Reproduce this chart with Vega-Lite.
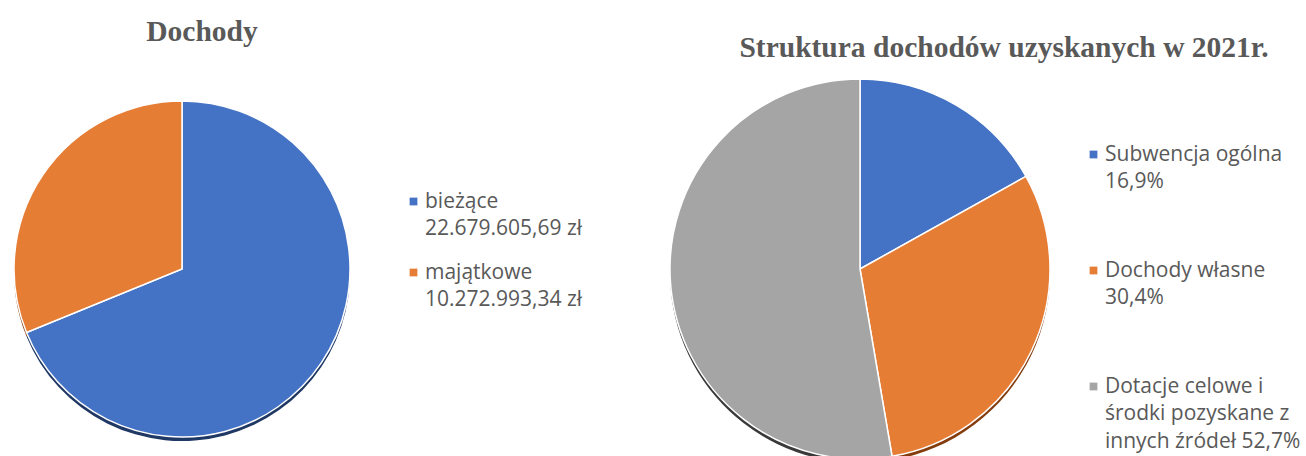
{
  "$schema": "https://vega.github.io/schema/vega-lite/v6.json",
  "background": "white",
  "padding": {"left": 11, "top": 16, "right": 0, "bottom": 0},
  "bounds": "flush",
  "spacing": 318,
  "config": {
    "view": {"stroke": null},
    "style": {"guide-label": {"lineHeight": 27.5, "dy": -11}},
    "legend": {
      "orient": "none",
      "symbolType": "square",
      "symbolSize": 60,
      "symbolStrokeWidth": 0,
      "labelFont": "Open Sans",
      "labelFontSize": 21,
      "labelColor": "#595959",
      "labelLimit": 0,
      "labelOffset": 1,
      "labelBaseline": "top",
      "padding": 0,
      "title": null
    }
  },
  "hconcat": [
    {
      "width": 340,
      "height": 380,
      "title": {"text": "Dochody", "font": "Liberation Serif", "fontSize": 29.5, "fontWeight": "bold", "color": "#595959", "anchor": "middle", "dx": 20, "offset": 9, "baseline": "alphabetic"},
      "data": {"values": [
        {"idx": 1, "etykieta": "bieżące\n22.679.605,69 zł", "wartosc": 22679605.69},
        {"idx": 2, "etykieta": "majątkowe\n10.272.993,34 zł", "wartosc": 10272993.34}
      ]},
      "layer": [
        {
          "mark": {"type": "arc", "radius": 168, "yOffset": 4},
          "encoding": {
            "theta": {"field": "wartosc", "type": "quantitative", "stack": true},
            "order": {"field": "idx", "type": "quantitative"},
            "color": {"field": "etykieta", "type": "nominal", "sort": ["bieżące\n22.679.605,69 zł", "majątkowe\n10.272.993,34 zł"], "scale": {"range": ["#1F3864", "#843C0C"]}, "legend": null}
          }
        },
        {
          "mark": {"type": "arc", "radius": 168, "stroke": "white", "strokeWidth": 1.5},
          "encoding": {
            "theta": {"field": "wartosc", "type": "quantitative", "stack": true},
            "order": {"field": "idx", "type": "quantitative"},
            "color": {"field": "etykieta", "type": "nominal", "sort": ["bieżące\n22.679.605,69 zł", "majątkowe\n10.272.993,34 zł"], "scale": {"range": ["#4472C4", "#E67D35"]},
              "legend": {"legendX": 391, "legendY": 112, "rowPadding": 22, "labelExpr": "split(datum.label, '\\n')"}}
          }
        }
      ],
      "resolve": {"scale": {"color": "independent"}}
    },
    {
      "width": 380,
      "height": 380,
      "title": {"text": "Struktura dochodów uzyskanych w 2021r.", "font": "Liberation Serif", "fontSize": 29.5, "fontWeight": "bold", "color": "#595959", "anchor": "middle", "dx": 144, "offset": -10, "baseline": "alphabetic"},
      "data": {"values": [
        {"idx": 1, "etykieta": "Subwencja ogólna\n16,9%", "udzial": 16.9},
        {"idx": 2, "etykieta": "Dochody własne\n30,4%", "udzial": 30.4},
        {"idx": 3, "etykieta": "Dotacje celowe i\nśrodki pozyskane z\ninnych źródeł 52,7%", "udzial": 52.7}
      ]},
      "layer": [
        {
          "mark": {"type": "arc", "radius": 190, "yOffset": 4},
          "encoding": {
            "theta": {"field": "udzial", "type": "quantitative", "stack": true},
            "order": {"field": "idx", "type": "quantitative"},
            "color": {"field": "etykieta", "type": "nominal", "sort": ["Subwencja ogólna\n16,9%", "Dochody własne\n30,4%", "Dotacje celowe i\nśrodki pozyskane z\ninnych źródeł 52,7%"], "scale": {"range": ["#1F3864", "#843C0C", "#3A3A3A"]}, "legend": null}
          }
        },
        {
          "mark": {"type": "arc", "radius": 190, "stroke": "white", "strokeWidth": 1.5},
          "encoding": {
            "theta": {"field": "udzial", "type": "quantitative", "stack": true},
            "order": {"field": "idx", "type": "quantitative"},
            "color": {"field": "etykieta", "type": "nominal", "sort": ["Subwencja ogólna\n16,9%", "Dochody własne\n30,4%", "Dotacje celowe i\nśrodki pozyskane z\ninnych źródeł 52,7%"], "scale": {"range": ["#4472C4", "#E67D35", "#A5A5A5"]},
              "legend": {"legendX": 413, "legendY": 65, "rowPadding": 67, "labelExpr": "split(datum.label, '\\n')"}}
          }
        }
      ],
      "resolve": {"scale": {"color": "independent"}}
    }
  ]
}
